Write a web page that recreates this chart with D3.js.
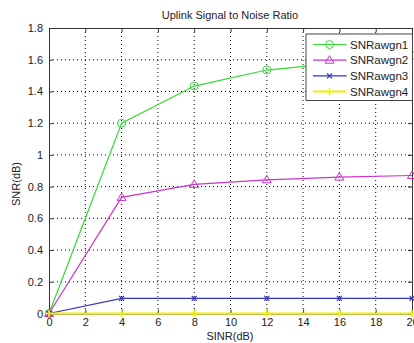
<!DOCTYPE html>
<html lang="en">
<head>
<meta charset="UTF-8">
<title>Uplink Signal to Noise Ratio</title>
<script src="https://d3js.org/d3.v7.min.js"></script>
<style>
  body { margin: 0; background: #fff; font-family: "Liberation Sans", Arial, sans-serif; }
  .grid line { stroke: #000; stroke-dasharray: 1,3; stroke-width: 1; }
  .tick text { fill: #222; font-size: 11px; }
</style>
</head>
<body>
<div id="chart"></div>
<script>
const sinr = [0, 4, 8, 12, 16, 20];
const snrAwgn1 = [0, 1.2, 1.434, 1.535, 1.58, 1.627];
const snrAwgn2 = [0, 0.732, 0.814, 0.843, 0.86, 0.87];
const snrAwgn3 = [0, 0.095, 0.095, 0.095, 0.095, 0.095];
const snrAwgn4 = [0, 0, 0, 0, 0, 0];
const seriesNames = ["SNRawgn1", "SNRawgn2", "SNRawgn3", "SNRawgn4"];
const xTicks = d3.range(0, 21, 2);
const yTicks = [0, 0.2, 0.4, 0.6, 0.8, 1, 1.2, 1.4, 1.6, 1.8];

const width = 414, height = 343;
const plotLeft = 49, plotRight = 412, plotTop = 28, plotBottom = 313.5;

const svg = d3.select("#chart").append("svg")
  .attr("width", width).attr("height", height);

const x = d3.scaleLinear().domain([0, 20]).range([plotLeft, plotRight]);
const y = d3.scaleLinear().domain([0, 1.8]).range([plotBottom, plotTop]);

// grid
const grid = svg.append("g").attr("class", "grid");
grid.selectAll(".gx").data(xTicks.slice(1, -1)).enter().append("line")
  .attr("x1", d => x(d)).attr("x2", d => x(d)).attr("y1", plotTop).attr("y2", plotBottom);
grid.selectAll(".gy").data(yTicks.slice(1, -1)).enter().append("line")
  .attr("x1", plotLeft).attr("x2", plotRight).attr("y1", d => y(d)).attr("y2", d => y(d));

// axes with inward ticks
svg.append("g").attr("transform", `translate(0,${plotBottom})`)
  .call(d3.axisBottom(x).tickValues(xTicks).tickSizeInner(-4).tickSizeOuter(0).tickPadding(5))
  .call(g => g.select(".domain").attr("stroke", "#333"));
svg.append("g").attr("transform", `translate(0,${plotTop})`)
  .call(d3.axisTop(x).tickValues(xTicks).tickSizeInner(-4).tickSizeOuter(0).tickFormat(""))
  .call(g => g.select(".domain").attr("stroke", "#333"));
svg.append("g").attr("transform", `translate(${plotLeft},0)`)
  .call(d3.axisLeft(y).tickValues(yTicks).tickSizeInner(-4).tickSizeOuter(0).tickPadding(6).tickFormat(d3.format("~g")))
  .call(g => g.select(".domain").attr("stroke", "#333"));
svg.append("g").attr("transform", `translate(${plotRight},0)`)
  .call(d3.axisRight(y).tickValues(yTicks).tickSizeInner(-4).tickSizeOuter(0).tickFormat(""))
  .call(g => g.select(".domain").attr("stroke", "#333"));
svg.selectAll(".tick line").attr("stroke", "#333");

const series = [
  { name: seriesNames[0], values: snrAwgn1, color: "#33dd33", marker: "circle" },
  { name: seriesNames[1], values: snrAwgn2, color: "#cc33cc", marker: "triangle" },
  { name: seriesNames[2], values: snrAwgn3, color: "#3333bb", marker: "x" },
  { name: seriesNames[3], values: snrAwgn4, color: "#f0f000", marker: "plus" }
];

function drawMarker(g, type, cx, cy, color) {
  if (type === "circle") {
    g.append("circle").attr("cx", cx).attr("cy", cy).attr("r", 4)
      .attr("fill", "none").attr("stroke", color).attr("stroke-width", 1);
  } else if (type === "triangle") {
    g.append("path").attr("d", `M${cx},${cy - 4.5}L${cx + 4.5},${cy + 3}L${cx - 4.5},${cy + 3}Z`)
      .attr("fill", "none").attr("stroke", color).attr("stroke-width", 1);
  } else if (type === "x") {
    g.append("path").attr("d", `M${cx - 2.5},${cy - 2.5}L${cx + 2.5},${cy + 2.5}M${cx - 2.5},${cy + 2.5}L${cx + 2.5},${cy - 2.5}`)
      .attr("stroke", color).attr("stroke-width", 1.2);
  } else {
    g.append("path").attr("d", `M${cx - 3.5},${cy}L${cx + 3.5},${cy}M${cx},${cy - 3.5}L${cx},${cy + 3.5}`)
      .attr("stroke", color).attr("stroke-width", 1.5);
  }
}

const line = d3.line().x((d, i) => x(sinr[i])).y(d => y(d));

series.forEach(s => {
  const g = svg.append("g");
  g.append("path").attr("d", line(s.values))
    .attr("fill", "none").attr("stroke", s.color)
    .attr("stroke-width", s.marker === "plus" ? 2 : 1.2);
  s.values.forEach((v, i) => drawMarker(g, s.marker, x(sinr[i]), y(v), s.color));
});

// legend
const lg = svg.append("g");
lg.append("rect").attr("x", 306).attr("y", 34).attr("width", 106.5).attr("height", 66.5)
  .attr("fill", "#fff").attr("stroke", "#444").attr("stroke-width", 1);
series.forEach((s, i) => {
  const ly = 44.5 + i * 15.7;
  lg.append("line").attr("x1", 313).attr("x2", 346.5).attr("y1", ly).attr("y2", ly)
    .attr("stroke", s.color).attr("stroke-width", s.marker === "plus" ? 2 : 1.2);
  drawMarker(lg, s.marker, 329.5, ly, s.color);
  lg.append("text").attr("x", 350).attr("y", ly + 4).attr("font-size", 11.5)
    .attr("fill", "#222").text(s.name);
});

// title and labels
svg.append("text").attr("x", 230).attr("y", 19).attr("text-anchor", "middle")
  .attr("font-size", 11).attr("fill", "#222").text("Uplink Signal to Noise Ratio");
svg.append("text").attr("x", 230).attr("y", 340).attr("text-anchor", "middle")
  .attr("font-size", 11).attr("fill", "#222").text("SINR(dB)");
svg.append("text").attr("transform", "rotate(-90)")
  .attr("x", -184).attr("y", 20).attr("text-anchor", "middle")
  .attr("font-size", 11).attr("fill", "#222").text("SNR(dB)");
</script>
</body>
</html>
